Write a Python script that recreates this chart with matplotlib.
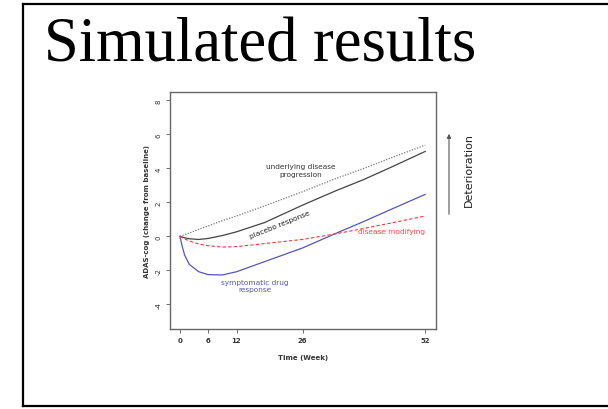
import matplotlib
matplotlib.use("Agg")
import matplotlib.pyplot as plt
from matplotlib.lines import Line2D

# --- valores ---
weeks = [0, 0.5, 1, 2, 4, 6, 9, 12, 18, 26, 33, 39, 45, 52]
underlying = [0, 0.05, 0.1, 0.2, 0.42, 0.62, 0.93, 1.2, 1.8, 2.63, 3.4, 4.0, 4.65, 5.37]
placebo = [0, -0.04, -0.08, -0.14, -0.18, -0.12, 0.05, 0.27, 0.82, 1.84, 2.68, 3.35, 4.1, 5.0]
symptomatic = [0, -0.6, -1.1, -1.65, -2.08, -2.25, -2.27, -2.08, -1.48, -0.68, 0.17, 0.88, 1.62, 2.47]
modifying = [0, -0.08, -0.15, -0.27, -0.45, -0.55, -0.63, -0.6, -0.42, -0.18, 0.15, 0.47, 0.8, 1.2]

xticks = [0, 6, 12, 26, 52]
yticks = [-4, -2, 0, 2, 4, 6, 8]

fig = plt.figure(figsize=(6.08, 4.10), dpi=100)

# moldura do slide
for xs, ys in [([23/608, 1.02], [1 - 5/410, 1 - 5/410]),
               ([23/608, 23/608], [1 - 5/410, 1 - 407/410]),
               ([23/608, 1.02], [1 - 407/410, 1 - 407/410])]:
    fig.add_artist(Line2D(xs, ys, color="black", lw=1.6, transform=fig.transFigure))

fig.text(44/608, 1 - 62/410, "Simulated results", family="Liberation Serif",
         fontsize=45, ha="left", va="baseline")

ax = fig.add_axes([170/608, 1 - 330/410, 266/608, 237/410])
ax.plot(weeks, underlying, color="#777777", lw=0.9, ls=(0, (1, 1.2)))
ax.plot(weeks, placebo, color="#444444", lw=0.9)
ax.plot(weeks, symptomatic, color="#5555bb", lw=0.9)
ax.plot(weeks, modifying, color="#ff3333", lw=0.8, ls=(0, (3, 2)))

ax.set_xlim(-2.1, 54.3)
ax.set_ylim(-5.45, 8.5)
ax.set_xticks(xticks)
ax.set_yticks(yticks)
ax.set_xticklabels([str(t) for t in xticks], fontsize=5, fontweight="bold", color="#333333")
ax.set_yticklabels([str(t) for t in yticks], fontsize=5, rotation=90, va="center", color="#333333")
ax.tick_params(length=3, width=0.6, color="#555555", pad=3)
for s in ax.spines.values():
    s.set_color("#666666")
    s.set_linewidth(1.0)

ax.set_xlabel("Time (Week)", fontsize=5, fontweight="bold", color="#333333", labelpad=8)
ax.set_ylabel("ADAS-cog (change from baseline)", fontsize=5, fontweight="bold",
              color="#333333", labelpad=4)

ax.text(25.6, 3.9, "underlying disease\nprogression", fontsize=5.3, ha="center",
        va="center", color="#333333", linespacing=1.3)
ax.text(21.2, 0.73, "placebo response", fontsize=5.3, ha="center", va="center",
        rotation=22, color="#222222")
ax.text(44.8, 0.33, "disease modifying", fontsize=5.3, ha="center", va="center",
        color="#ff4444")
ax.text(15.9, -2.88, "symptomatic drug\nresponse", fontsize=5.3, ha="center",
        va="center", color="#5555bb", linespacing=1.3)

# seta "Deterioration"
fig.add_artist(matplotlib.patches.FancyArrowPatch(
    (449/608, 1 - 218/410), (449/608, 1 - 132/410), transform=fig.transFigure,
    arrowstyle="-|>", mutation_scale=6, color="#555555", lw=0.8))
fig.text(469/608, 1 - 170/410, "Deterioration", fontsize=8, rotation=90,
         ha="center", va="center", color="#222222")

fig.savefig("out.png", dpi=100)
